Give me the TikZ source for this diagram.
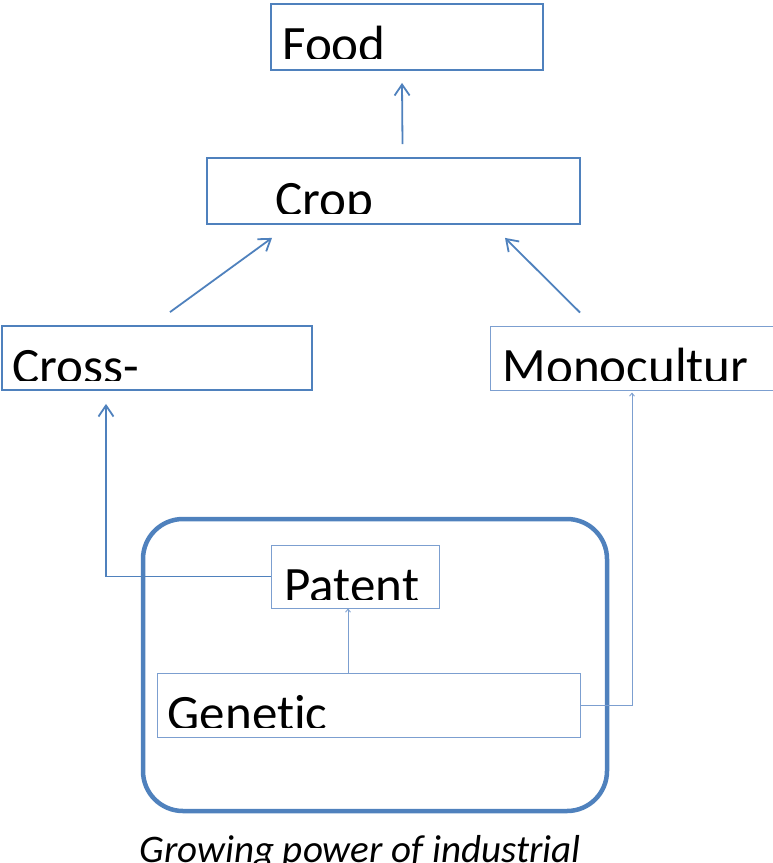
\documentclass[tikz,border=0pt]{standalone}
\usepackage{fontspec}
\setmainfont{Carlito}[Ligatures=NoCommon]
\usetikzlibrary{arrows.meta}
\definecolor{boxblue}{HTML}{4F81BD}
\definecolor{paleblue}{HTML}{7C9FD0}
\tikzset{
  topbox/.style={draw=boxblue, line width=1.8pt, inner sep=0pt},
  lowbox/.style={draw=paleblue, line width=1pt, inner sep=0pt},
  lbl/.style={anchor=base west, inner sep=0pt, font=\fontsize{51}{51}\selectfont},
  arr/.style={draw=boxblue, line width=1.8pt, -{Straight Barb[length=11pt,width=15pt]}},
  thinarr/.style={draw=paleblue, line width=0.9pt, -{Straight Barb[length=3pt,width=5pt]}},
}
% box name, indent, cut above the bottom, text
\newcommand{\cuttext}[4]{%
  \begin{scope}
    \clip (#1.north west) rectangle ([yshift=#3]#1.south east);
    \node[lbl] at ([xshift=#2, yshift={#3-3}]#1.south west) {#4};
  \end{scope}}

\begin{document}
\begin{tikzpicture}[x=1pt, y=-1pt]
  \useasboundingbox (0,0) rectangle (772,863);

  % outer frame
  \node[draw=boxblue, line width=4.5pt, rounded corners=40pt,
        minimum width=464pt, minimum height=292pt] (group) at (375,665) {};

  % boxes
  \node[topbox, minimum width=272pt, minimum height=66pt] (food) at (407,37) {};
  \node[topbox, minimum width=373pt, minimum height=66pt] (crop) at (393.5,191) {};
  \node[topbox, minimum width=310pt, minimum height=64pt] (cross) at (157,358) {};
  \node[lowbox, minimum width=284pt, minimum height=64pt] (mono) at (632,358) {};
  \node[lowbox, minimum width=168pt, minimum height=63pt] (patent) at (355,576.5) {};
  \node[lowbox, minimum width=423pt, minimum height=64pt] (genetic) at (368.5,705) {};

  \cuttext{food}{12}{12}{Food}
  \cuttext{crop}{69}{11}{Crop}
  \cuttext{cross}{11}{10}{Cross-}
  \cuttext{mono}{13}{10}{Monocultur}
  \cuttext{patent}{14}{9}{Patent}
  \cuttext{genetic}{11}{10}{Genetic}

  % connectors
  \draw[arr] ([xshift=9, yshift=13]crop.north) -- ([xshift=-5, yshift=-12]food.south);
  \draw[arr] ([xshift=13, yshift=13]cross.north) -- ([xshift=-121.5, yshift=-13]crop.south);
  \draw[arr] ([xshift=-52, yshift=13]mono.north) -- ([xshift=111.5, yshift=-13]crop.south);
  \draw[arr] (patent.west) -| ([xshift=-51, yshift=-13]cross.south);
  \draw[thinarr] ([xshift=-20.5]genetic.north) -- ([xshift=-20.5]genetic.north |- patent.south);
  \draw[thinarr] (genetic.east) -| ([yshift=-2]mono.south);

  \node[anchor=base, inner sep=0pt, font=\itshape\fontsize{39}{39}\selectfont]
    (caption) at ([xshift=-15, yshift=-49]group.south) {Growing power of industrial};
\end{tikzpicture}
\end{document}
